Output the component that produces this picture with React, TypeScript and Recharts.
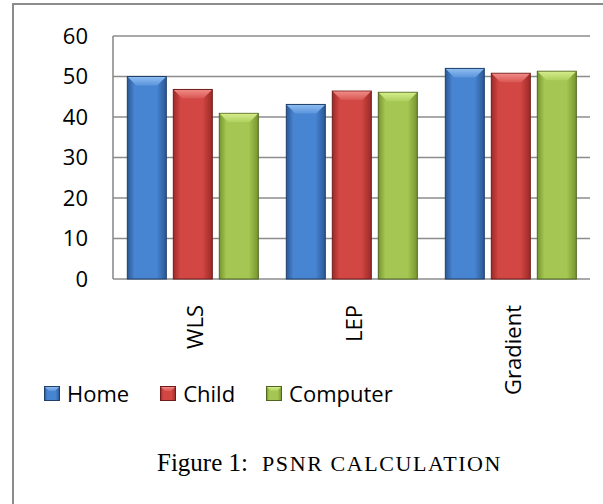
import React from 'react';
import { BarChart, Bar, XAxis, YAxis, CartesianGrid, Legend } from 'recharts';

const categories = ['WLS', 'LEP', 'Gradient'];
const homeValues = [50.0, 43.1, 52.0];
const childValues = [46.8, 46.4, 50.8];
const computerValues = [40.9, 46.1, 51.3];
const yTicks = [0, 10, 20, 30, 40, 50, 60];
const seriesNames = ['Home', 'Child', 'Computer'];
const seriesKeys = ['home', 'child', 'computer'];

const palettes: Record<string, { edge: string; mid: string; top: string; topEdge: string; stroke: string }> = {
  home: { edge: '#2b5893', mid: '#4784d2', top: '#8dbcf0', topEdge: '#5b95dc', stroke: '#1f3e6a' },
  child: { edge: '#9a2a28', mid: '#d24643', top: '#f08a86', topEdge: '#d85652', stroke: '#6e1d1b' },
  computer: { edge: '#76952f', mid: '#a5c652', top: '#d4ec8c', topEdge: '#aecf5c', stroke: '#4f6620' },
};

const data = categories.map((name, i) => ({
  name,
  home: homeValues[i],
  child: childValues[i],
  computer: computerValues[i],
}));

const TICK_FONT = '"Open Sans", "DejaVu Sans", sans-serif';

const makeShape = (key: string) => (props: any) => {
  const { x, y, width, height } = props;
  if (!height || height <= 0) return <g />;
  const p = palettes[key];
  const b = Math.min(9, width / 4, height / 2);
  return (
    <g>
      <rect x={x} y={y} width={width} height={height} fill={`url(#body-${key})`} stroke={p.stroke} strokeWidth={1} />
      <polygon
        points={`${x + 0.5},${y + 0.5} ${x + width - 0.5},${y + 0.5} ${x + width - b},${y + b} ${x + b},${y + b}`}
        fill={`url(#top-${key})`}
      />
    </g>
  );
};

const XTick = (props: any) => {
  const { x, y, payload } = props;
  return (
    <text
      transform={`rotate(-90, ${x}, ${y})`}
      x={x}
      y={y}
      dy={10}
      textAnchor="end"
      fontFamily={TICK_FONT}
      fontSize={22}
      fill="#000"
    >
      {payload.value}
    </text>
  );
};

const Swatch = ({ k }: { k: string }) => {
  const p = palettes[k];
  return (
    <svg width={16} height={15} style={{ display: 'block' }}>
      <rect x={0.5} y={0.5} width={15} height={14} fill={`url(#body-${k})`} stroke={p.stroke} strokeWidth={1} />
      <polygon points="1,1 15,1 11,5 5,5" fill={`url(#top-${k})`} />
    </svg>
  );
};

const LegendContent = (props: any) => {
  const payload: any[] = props.payload || [];
  const ordered = seriesNames
    .map((n) => payload.find((e: any) => e.value === n))
    .filter(Boolean);
  return (
    <div style={{ display: 'flex', alignItems: 'center', whiteSpace: 'nowrap' }}>
      {ordered.map((entry: any, i: number) => {
        const k = seriesKeys[seriesNames.indexOf(entry.value)];
        return (
          <div key={i} style={{ display: 'flex', alignItems: 'center', marginRight: 31 }}>
            <Swatch k={k} />
            <span
              style={{
                fontFamily: TICK_FONT,
                fontSize: 22,
                lineHeight: '24px',
                color: '#000',
                marginLeft: 7,
              }}
            >
              {entry.value}
            </span>
          </div>
        );
      })}
    </div>
  );
};

export default function App() {
  return (
    <div style={{ position: 'absolute', left: 0, top: 0, width: 603, height: 504, background: '#fff', overflow: 'hidden' }}>
      <svg width={0} height={0} style={{ position: 'absolute' }}>
        <defs>
          {seriesKeys.map((k) => (
            <React.Fragment key={k}>
              <linearGradient id={`body-${k}`} x1="0" y1="0" x2="1" y2="0">
                <stop offset="0%" stopColor={palettes[k].edge} />
                <stop offset="18%" stopColor={palettes[k].mid} />
                <stop offset="75%" stopColor={palettes[k].mid} />
                <stop offset="100%" stopColor={palettes[k].edge} />
              </linearGradient>
              <linearGradient id={`top-${k}`} x1="0" y1="0" x2="0" y2="1">
                <stop offset="0%" stopColor={palettes[k].top} />
                <stop offset="100%" stopColor={palettes[k].topEdge} />
              </linearGradient>
            </React.Fragment>
          ))}
        </defs>
      </svg>
      <div
        style={{
          position: 'absolute',
          left: 12,
          top: 3,
          width: 603,
          height: 520,
          borderTop: '2px solid #8c8c8c',
          borderLeft: '2px solid #8c8c8c',
          boxSizing: 'border-box',
        }}
      />
      <div style={{ position: 'absolute', left: 0, top: 0 }}>
        <BarChart
          width={603}
          height={504}
          data={data}
          margin={{ top: 36, right: 13, bottom: 25, left: 13 }}
          barCategoryGap="9%"
          barGap={7}
        >
          <CartesianGrid vertical={false} stroke="#8c8c8c" strokeWidth={1.6} />
          <XAxis
            dataKey="name"
            axisLine={false}
            tickLine={false}
            tickSize={0}
            tickMargin={26}
            height={200}
            interval={0}
            tick={<XTick />}
          />
          <YAxis
            domain={[0, 60]}
            ticks={yTicks}
            width={100}
            axisLine={{ stroke: '#8c8c8c', strokeWidth: 1.6 }}
            tickLine={false}
            tickSize={6}
            tickMargin={19}
            tick={{ fontFamily: TICK_FONT, fontSize: 22, fill: '#000' }}
          />
          <Legend
            layout="horizontal"
            verticalAlign="middle"
            align="center"
            wrapperStyle={{ position: 'absolute', left: 44, top: 381, width: 440, height: 26 }}
            content={<LegendContent />}
          />
          <Bar dataKey="home" name={seriesNames[0]} fill="#4784d2" shape={makeShape('home')} isAnimationActive={false} />
          <Bar dataKey="child" name={seriesNames[1]} fill="#d24643" shape={makeShape('child')} isAnimationActive={false} />
          <Bar dataKey="computer" name={seriesNames[2]} fill="#a5c652" shape={makeShape('computer')} isAnimationActive={false} />
        </BarChart>
      </div>
      <div
        style={{
          position: 'absolute',
          left: 157,
          top: 449,
          whiteSpace: 'nowrap',
          fontFamily: '"Liberation Serif", "Times New Roman", serif',
          color: '#000',
          lineHeight: '28px',
        }}
      >
        <span style={{ fontSize: 25 }}>Figure 1:</span>
        <span style={{ fontSize: 22, letterSpacing: 1.6, marginLeft: 14 }}>PSNR CALCULATION</span>
      </div>
    </div>
  );
}
